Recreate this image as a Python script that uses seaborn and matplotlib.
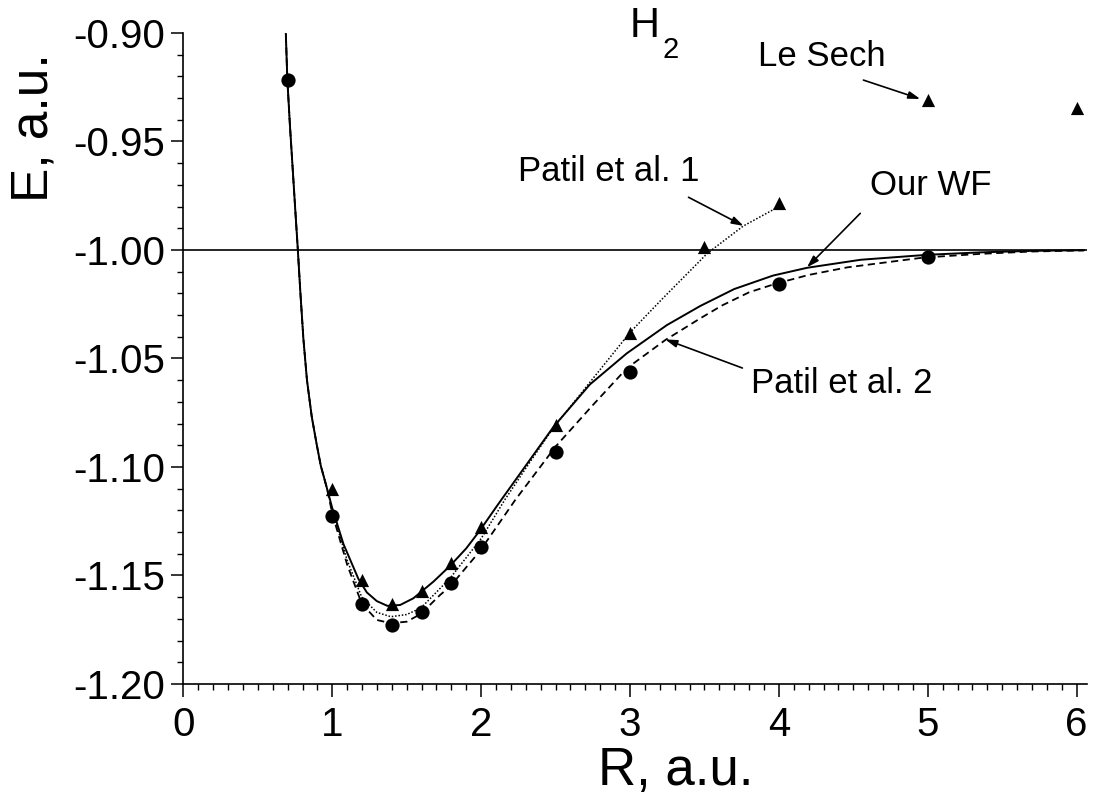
import numpy as np
import matplotlib
matplotlib.use("Agg")
import matplotlib.pyplot as plt
from matplotlib import font_manager
from matplotlib.ticker import MultipleLocator
import seaborn as sns

# Kurven, R in a.u., E in a.u.
wall_R = [0.683, 0.6875, 0.698, 0.715, 0.732, 0.750, 0.768, 0.786, 0.806, 0.830,
          0.862, 0.895, 0.923, 0.963]
wall_E = [-0.885, -0.8994, -0.9213, -0.942, -0.9604, -0.980, -0.9992, -1.020, -1.041, -1.060,
          -1.0768, -1.0895, -1.0995, -1.1095]

our_R = wall_R + [1.0, 1.075, 1.175, 1.232, 1.299, 1.370, 1.456, 1.545, 1.680, 1.792,
                  1.90, 1.989, 2.116, 2.262, 2.486, 2.73, 2.979, 3.248, 3.472, 3.70,
                  3.96, 4.19, 4.55, 5.0, 5.35, 5.7, 6.05]
our_E = wall_E + [-1.119, -1.1355, -1.1515, -1.1578, -1.1618, -1.164, -1.1636, -1.1605, -1.1528, -1.1455,
                  -1.1375, -1.1295, -1.117, -1.103, -1.0815, -1.062, -1.0476, -1.0346, -1.0258, -1.018,
                  -1.0118, -1.0082, -1.0045, -1.0022, -1.0011, -1.0004, -1.0001]

patil1_R = wall_R + [1.0, 1.1, 1.198, 1.299, 1.393, 1.50, 1.595, 1.724, 1.8, 2.0,
                     2.16, 2.33, 2.49, 3.0, 3.21, 3.52, 3.76, 4.0]
patil1_E = wall_E + [-1.120, -1.143, -1.160, -1.167, -1.169, -1.168, -1.165, -1.156, -1.1505, -1.133,
                     -1.115, -1.0975, -1.0815, -1.038, -1.023, -1.0015, -0.989, -0.980]

patil2_R = wall_R + [1.0, 1.1, 1.198, 1.299, 1.393, 1.50, 1.595, 1.724, 1.792, 1.989,
                     2.229, 2.5, 2.75, 2.979, 3.237, 3.472, 3.62, 3.80, 3.98, 4.20,
                     4.46, 4.97, 5.35, 5.7, 6.05]
patil2_E = wall_E + [-1.1215, -1.145, -1.163, -1.1705, -1.172, -1.1713, -1.1677, -1.159, -1.155, -1.139,
                     -1.1152, -1.0906, -1.0715, -1.0545, -1.0415, -1.0315, -1.0255, -1.0195, -1.0155, -1.0115,
                     -1.008, -1.0035, -1.0018, -1.0007, -1.0002]

# Punkte
circ_R = [0.7, 1.0, 1.2, 1.4, 1.6, 1.8, 2.0, 2.5, 3.0, 4.0, 5.0]
circ_E = [-0.9215, -1.1228, -1.1633, -1.1728, -1.1670, -1.1536, -1.1367, -1.0929, -1.0560, -1.0157, -1.0031]

tri_R = [1.0, 1.2, 1.4, 1.6, 1.8, 2.0, 2.5, 3.0, 3.5, 4.0]
tri_E = [-1.1103, -1.152, -1.163, -1.157, -1.1444, -1.1275, -1.0806, -1.0384, -0.9988, -0.9785]

lesech_R = [5.0, 6.0]
lesech_E = [-0.9309, -0.9347]

yticks = [-1.20, -1.15, -1.10, -1.05, -1.00, -0.95, -0.90]
ylabels = ["-1.20", "-1.15", "-1.10", "-1.05", "-1.00", "-0.95", "-0.90"]
xticks = [0, 1, 2, 3, 4, 5, 6]

sns.set_style("ticks")
names = {f.name for f in font_manager.fontManager.ttflist}
narrow = "Liberation Sans Narrow" if "Liberation Sans Narrow" in names else "Liberation Sans"
plt.rcParams["font.family"] = ["Liberation Sans", "DejaVu Sans"]
for key in ["text.color", "axes.labelcolor", "xtick.color", "ytick.color", "axes.edgecolor"]:
    plt.rcParams[key] = "black"

fig = plt.figure(figsize=(10.97, 8.01), dpi=100)
ax = fig.add_axes([0.1672, 0.1461, 0.8237, 0.8127])

ax.axhline(-1.0, color="black", lw=1.2, zorder=1)

sns.lineplot(x=our_R, y=our_E, ax=ax, color="black", lw=1.4, sort=False, estimator=None)
sns.lineplot(x=patil2_R, y=patil2_E, ax=ax, color="black", lw=1.3, sort=False, estimator=None,
             linestyle=(0, (4, 2.5)))
sns.lineplot(x=patil1_R, y=patil1_E, ax=ax, color="black", lw=1.1, sort=False, estimator=None,
             linestyle=(0, (1, 1.2)))

sns.scatterplot(x=circ_R, y=circ_E, ax=ax, marker="o", s=105, color="black", linewidth=0, zorder=5)
sns.scatterplot(x=tri_R, y=tri_E, ax=ax, marker="^", s=90, color="black", linewidth=0, zorder=5)
sns.scatterplot(x=lesech_R, y=lesech_E, ax=ax, marker="^", s=90, color="black", linewidth=0, zorder=5)

ax.set_xlim(0, 6.07)
ax.set_ylim(-1.20, -0.90)
ax.set_xticks(xticks)
ax.set_xticklabels([str(t) for t in xticks], fontsize=29, family=narrow)
ax.set_yticks(yticks)
ax.set_yticklabels(ylabels, fontsize=29)
ax.xaxis.set_minor_locator(MultipleLocator(0.1))
ax.yaxis.set_minor_locator(MultipleLocator(0.01))
ax.tick_params(which="major", direction="out", length=9, width=1.1, color="black")
ax.tick_params(axis="y", which="major", pad=4)
ax.tick_params(axis="x", which="major", pad=7)
ax.tick_params(which="minor", direction="out", length=4.5, width=1.0, color="black")
sns.despine(ax=ax)
for s in ["left", "bottom"]:
    ax.spines[s].set_linewidth(1.2)

ax.set_xlabel("R, a.u.", fontsize=38, family=narrow)
ax.xaxis.set_label_coords(0.545, -0.095)
ax.set_ylabel("E, a.u.", fontsize=37)
ax.yaxis.set_label_coords(-0.138, 0.854)

ax.text(3.098, -0.9018, "H", fontsize=30, ha="center", va="baseline", clip_on=False)
ax.text(3.216, -0.9115, "2", fontsize=21, ha="left", va="baseline", clip_on=False)

arrow = dict(arrowstyle="-|>,head_length=0.7,head_width=0.22", color="black", lw=1.2, shrinkA=0, shrinkB=0)
ax.text(4.29, -0.9106, "Le Sech", fontsize=25, ha="center", va="center")
ax.annotate("", xy=(4.95, -0.9304), xytext=(4.568, -0.9217), arrowprops=arrow)
ax.text(2.854, -0.9639, "Patil et al. 1", fontsize=25, ha="center", va="center")
ax.annotate("", xy=(3.763, -0.9889), xytext=(3.393, -0.9757), arrowprops=arrow)
ax.text(5.017, -0.9705, "Our WF", fontsize=25, ha="center", va="center")
ax.annotate("", xy=(4.189, -1.008), xytext=(4.547, -0.9831), arrowprops=arrow)
ax.text(4.42, -1.0617, "Patil et al. 2", fontsize=25, ha="center", va="center")
ax.annotate("", xy=(3.237, -1.0412), xytext=(3.755, -1.0544), arrowprops=arrow)

fig.savefig("out.png", dpi=100, facecolor="white")
